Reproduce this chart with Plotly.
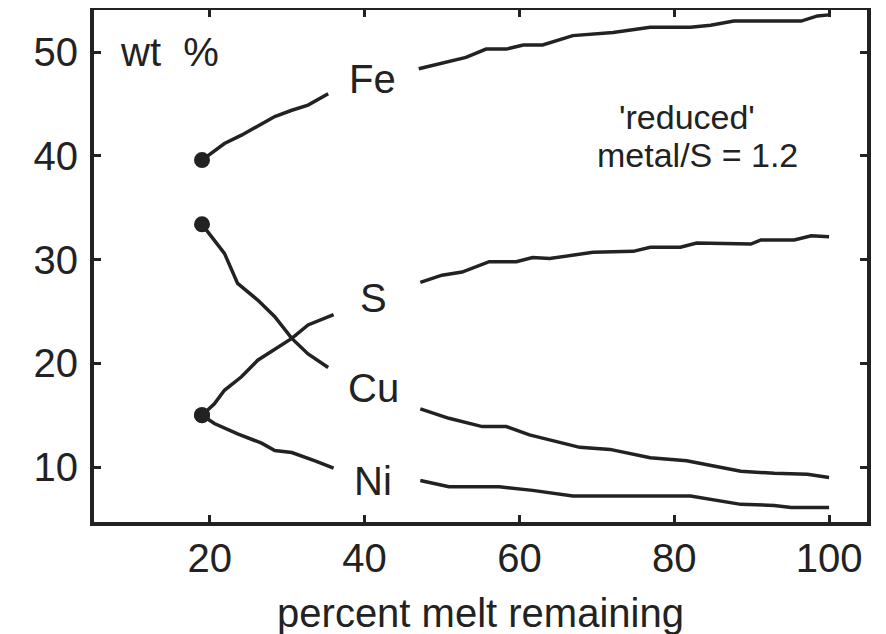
import plotly.graph_objects as go

# ---- data ----
fe_x = [19, 21.9, 24.1, 26.2, 28.4, 30.6, 32.7, 35.3, None, 47, 50, 53.1, 55.7, 58.3, 60.5, 63, 66.9, 72.1, 76.9, 82.1, 84.7, 87.7, 96.4, 98.5, 100]
fe_y = [39.6, 41.2, 42.0, 42.9, 43.8, 44.4, 44.9, 46.0, None, 48.4, 48.9, 49.5, 50.3, 50.3, 50.7, 50.7, 51.6, 51.9, 52.4, 52.4, 52.6, 53.0, 53.0, 53.5, 53.6]

cu_x = [19, 20.6, 21.9, 23.6, 26.2, 28.4, 30.6, 32.7, 35.3, None, 47.2, 50.9, 55.2, 58.3, 61.3, 67.8, 71.7, 76.9, 81.6, 88.6, 92.9, 97.2, 100]
cu_y = [33.4, 31.9, 30.6, 27.7, 26.1, 24.5, 22.4, 20.9, 19.6, None, 15.6, 14.7, 13.9, 13.9, 13.1, 11.9, 11.7, 10.9, 10.6, 9.6, 9.4, 9.3, 9.0]

s_x = [19, 20.6, 21.9, 24.1, 26.2, 28.4, 30.6, 32.7, 36.0, None, 47.2, 50.0, 52.6, 56.1, 59.6, 61.7, 63.9, 69.5, 74.7, 76.9, 80.8, 82.9, 89.9, 91.2, 95.5, 97.7, 100]
s_y = [15.0, 16.1, 17.4, 18.7, 20.3, 21.4, 22.4, 23.7, 24.7, None, 27.8, 28.5, 28.8, 29.8, 29.8, 30.2, 30.1, 30.7, 30.8, 31.2, 31.2, 31.6, 31.5, 31.9, 31.9, 32.3, 32.2]

ni_x = [19, 20.6, 23.6, 26.7, 28.4, 30.6, 33.6, 36.0, None, 47.2, 50.9, 57.4, 61.7, 66.9, 82.1, 88.6, 92.9, 95.1, 100]
ni_y = [15.0, 14.2, 13.2, 12.3, 11.6, 11.4, 10.6, 9.9, None, 8.7, 8.1, 8.1, 7.75, 7.2, 7.2, 6.4, 6.3, 6.1, 6.1]

series = [("Fe", fe_x, fe_y), ("Cu", cu_x, cu_y), ("S", s_x, s_y), ("Ni", ni_x, ni_y)]

label_names = ["Fe", "S", "Cu", "Ni"]
label_x = [41.0, 41.2, 41.2, 41.1]
label_y = [47.4, 26.3, 17.6, 8.65]

x_ticks = [20, 40, 60, 80, 100]
y_ticks = [10, 20, 30, 40, 50]

INK = "#222222"
FONT = "Liberation Sans, Arial, Helvetica, sans-serif"

fig = go.Figure()
for name, xs, ys in series:
    fig.add_trace(go.Scatter(x=xs, y=ys, mode="lines", name=name,
                             line=dict(color=INK, width=3.5), showlegend=False,
                             connectgaps=False))
# filled start markers
fig.add_trace(go.Scatter(x=[s[1][0] for s in series], y=[s[2][0] for s in series],
                         mode="markers", marker=dict(color=INK, size=16),
                         showlegend=False))

for t, x, y in zip(label_names, label_x, label_y):
    fig.add_annotation(x=x, y=y, text=t, showarrow=False, xanchor="center", yanchor="middle",
                       font=dict(size=40, color=INK, family=FONT))

fig.add_annotation(x=8.2, y=50.0, text="wt\u00a0\u00a0%", showarrow=False, xanchor="left",
                   yanchor="middle", font=dict(size=40, color=INK, family=FONT))
fig.add_annotation(x=81.7, y=43.75, text="'reduced'", showarrow=False, xanchor="center",
                   yanchor="middle", font=dict(size=34, color=INK, family=FONT))
fig.add_annotation(x=83.0, y=40.05, text="metal/S = 1.2", showarrow=False, xanchor="center",
                   yanchor="middle", font=dict(size=34, color=INK, family=FONT))

axis_common = dict(showline=True, linewidth=4, linecolor=INK, mirror="ticks",
                   ticks="inside", ticklen=7, tickwidth=3, tickcolor=INK,
                   showgrid=False, zeroline=False,
                   tickfont=dict(size=40, color=INK, family=FONT))

fig.update_xaxes(range=[5.05, 104.9], tickvals=x_ticks, ticklabelstandoff=-2,
                 title=dict(text="percent melt remaining", standoff=21,
                            font=dict(size=40, color=INK, family=FONT)),
                 **axis_common)
fig.update_yaxes(range=[4.7, 54.07], tickvals=y_ticks, ticklabelstandoff=4, **axis_common)

# page body has an 8px default margin, so margins are offset by 8px
fig.update_layout(width=886, height=634, margin=dict(l=86, r=27, t=2, b=120, autoexpand=False),
                  plot_bgcolor="white", paper_bgcolor="white",
                  font=dict(family=FONT, color=INK))

fig.write_html("out.html")
